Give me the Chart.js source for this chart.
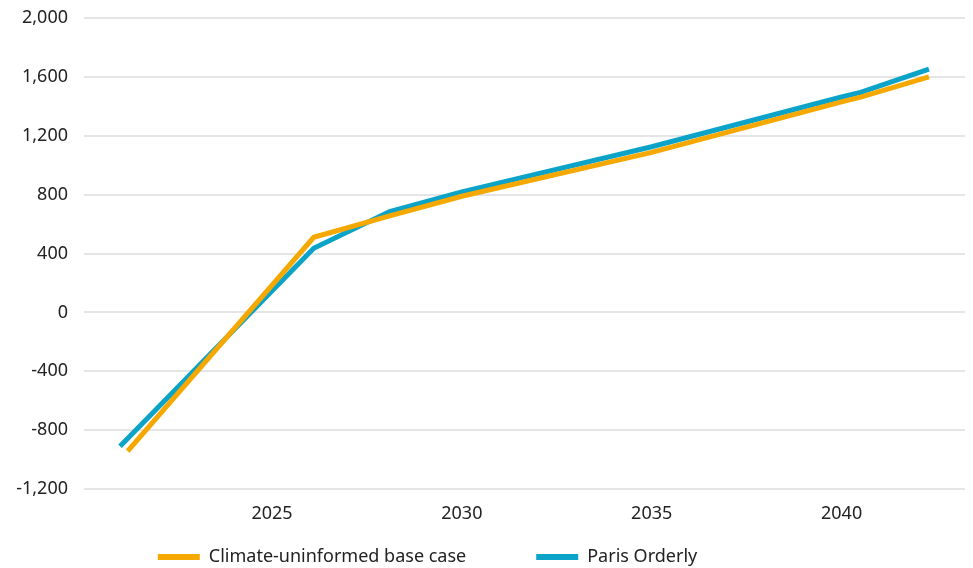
<!DOCTYPE html>
<html>
<head>
<meta charset="utf-8">
<script src="https://cdn.jsdelivr.net/npm/chart.js@4/dist/chart.umd.min.js"></script>
<style>
  html, body { margin: 0; padding: 0; background: #fff; }
  #wrap { width: 973px; height: 568px; }
</style>
</head>
<body>
<div id="wrap"><canvas id="lineChart"></canvas></div>
<script>
// series
const baseYears = [2021.2, 2026.1, 2028.1, 2030, 2035, 2040, 2040.5, 2042.3];
const baseValues = [-942, 510, 655, 789, 1087, 1430, 1462, 1600];

const parisYears = [2021, 2026.1, 2028.1, 2030, 2035, 2040, 2040.5, 2042.3];
const parisValues = [-910, 436, 685, 819, 1125, 1463, 1495, 1652];

const seriesNames = ['Climate-uninformed base case', 'Paris Orderly'];
const xTicks = [2025, 2030, 2035, 2040];

const orange = '#F5A800';
const blue = '#0BA3C8';
const textColor = '#222';
const font = { family: 'Noto Sans', size: 18 };

const legendPadding = 70;

const toPoints = (xs, ys) => xs.map((x, i) => ({ x: x, y: ys[i] }));

// place the legend like the original: a bit left of centre, near the bottom
const legendShift = {
    id: 'legendShift',
    afterLayout: (chart) => {
        const lg = chart.legend;
        lg.left -= 55;
        lg.right -= 55;
        lg.top = 557 - legendPadding - font.size / 2;
        lg.bottom = chart.height;
    }
};

new Chart(document.getElementById('lineChart').getContext('2d'), {
    type: 'line',
    data: {
        datasets: [{
            label: seriesNames[0],
            data: toPoints(baseYears, baseValues),
            borderColor: orange,
            backgroundColor: orange,
            borderWidth: 5,
            pointRadius: 0,
            tension: 0
        }, {
            label: seriesNames[1],
            data: toPoints(parisYears, parisValues),
            borderColor: blue,
            backgroundColor: blue,
            borderWidth: 5,
            pointRadius: 0,
            tension: 0
        }]
    },
    options: {
        responsive: true,
        maintainAspectRatio: false,
        animation: false,
        layout: { padding: { top: 0, right: 8, bottom: 0, left: 0 } },
        plugins: {
            tooltip: { enabled: false },
            legend: {
                position: 'bottom',
                maxHeight: 30,
                labels: {
                    boxWidth: 42,
                    boxHeight: 6,
                    padding: legendPadding,
                    color: textColor,
                    font: font,
                    generateLabels: (chart) =>
                        Chart.defaults.plugins.legend.labels.generateLabels(chart)
                            .map(l => ({ ...l, lineWidth: 0 }))
                }
            }
        },
        scales: {
            x: {
                type: 'linear',
                min: 2020.05,
                max: 2043.25,
                afterFit: (scale) => { scale.height = 49; },
                grid: { display: false, drawTicks: false },
                border: { display: false },
                afterBuildTicks: (axis) => {
                    axis.ticks = xTicks.map(v => ({ value: v }));
                },
                ticks: {
                    padding: 14,
                    color: textColor,
                    font: font,
                    callback: (v) => String(v)
                }
            },
            y: {
                min: -1200,
                max: 2000,
                afterFit: (scale) => {
                    scale.width = 84;
                    scale.paddingTop = 18;
                    scale.paddingBottom = 0;
                },
                grid: { color: '#e5e5e5', lineWidth: 2, drawTicks: false },
                border: { display: false },
                ticks: {
                    stepSize: 400,
                    padding: 16,
                    color: textColor,
                    font: font,
                    callback: (v) => v.toLocaleString('en-US')
                }
            }
        }
    },
    plugins: [legendShift]
});
</script>
</body>
</html>
